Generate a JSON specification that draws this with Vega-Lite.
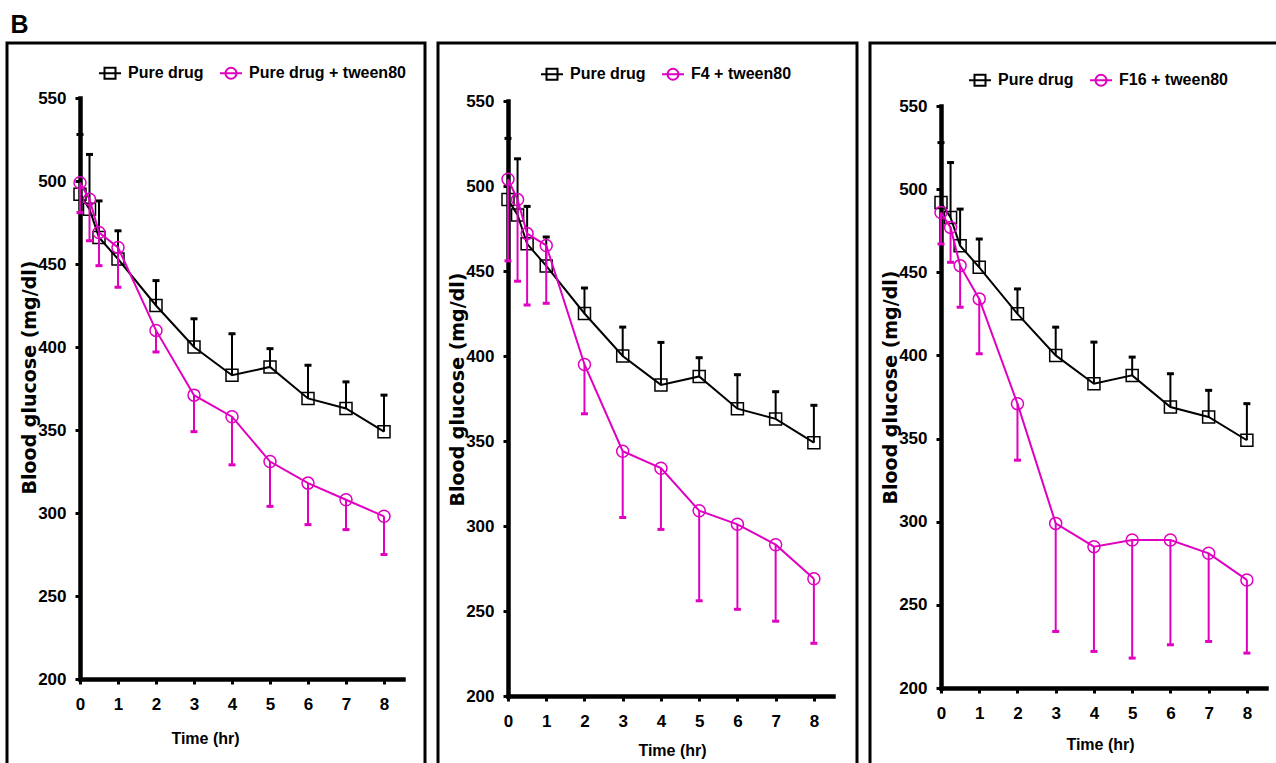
{
  "$schema": "https://vega.github.io/schema/vega-lite/v6.json",
  "padding": {"left": 5, "top": 12, "right": 0, "bottom": 0},
  "background": "white",
  "title": {"text": "B", "anchor": "start", "fontSize": 25, "font": "Liberation Sans", "fontWeight": "bold", "color": "black", "offset": 4, "dx": 5},
  "spacing": 9,
  "datasets": {
    "p1": [
      {"s": "Pure drug", "t": 0, "v": 492, "e": 528},
      {"s": "Pure drug", "t": 0.25, "v": 483, "e": 516},
      {"s": "Pure drug", "t": 0.5, "v": 466, "e": 488},
      {"s": "Pure drug", "t": 1, "v": 453, "e": 470},
      {"s": "Pure drug", "t": 2, "v": 425, "e": 440},
      {"s": "Pure drug", "t": 3, "v": 400, "e": 417},
      {"s": "Pure drug", "t": 4, "v": 383, "e": 408},
      {"s": "Pure drug", "t": 5, "v": 388, "e": 399},
      {"s": "Pure drug", "t": 6, "v": 369, "e": 389},
      {"s": "Pure drug", "t": 7, "v": 363, "e": 379},
      {"s": "Pure drug", "t": 8, "v": 349, "e": 371},
      {"s": "Pure drug + tween80", "t": 0, "v": 499, "e": 481},
      {"s": "Pure drug + tween80", "t": 0.25, "v": 489, "e": 464},
      {"s": "Pure drug + tween80", "t": 0.5, "v": 469, "e": 449},
      {"s": "Pure drug + tween80", "t": 1, "v": 460, "e": 436},
      {"s": "Pure drug + tween80", "t": 2, "v": 410, "e": 397},
      {"s": "Pure drug + tween80", "t": 3, "v": 371, "e": 349},
      {"s": "Pure drug + tween80", "t": 4, "v": 358, "e": 329},
      {"s": "Pure drug + tween80", "t": 5, "v": 331, "e": 304},
      {"s": "Pure drug + tween80", "t": 6, "v": 318, "e": 293},
      {"s": "Pure drug + tween80", "t": 7, "v": 308, "e": 290},
      {"s": "Pure drug + tween80", "t": 8, "v": 298, "e": 275}
    ],
    "p2": [
      {"s": "Pure drug", "t": 0, "v": 492, "e": 528},
      {"s": "Pure drug", "t": 0.25, "v": 483, "e": 516},
      {"s": "Pure drug", "t": 0.5, "v": 466, "e": 488},
      {"s": "Pure drug", "t": 1, "v": 453, "e": 470},
      {"s": "Pure drug", "t": 2, "v": 425, "e": 440},
      {"s": "Pure drug", "t": 3, "v": 400, "e": 417},
      {"s": "Pure drug", "t": 4, "v": 383, "e": 408},
      {"s": "Pure drug", "t": 5, "v": 388, "e": 399},
      {"s": "Pure drug", "t": 6, "v": 369, "e": 389},
      {"s": "Pure drug", "t": 7, "v": 363, "e": 379},
      {"s": "Pure drug", "t": 8, "v": 349, "e": 371},
      {"s": "F4 + tween80", "t": 0, "v": 504, "e": 456},
      {"s": "F4 + tween80", "t": 0.25, "v": 492, "e": 444},
      {"s": "F4 + tween80", "t": 0.5, "v": 472, "e": 430},
      {"s": "F4 + tween80", "t": 1, "v": 465, "e": 431},
      {"s": "F4 + tween80", "t": 2, "v": 395, "e": 366},
      {"s": "F4 + tween80", "t": 3, "v": 344, "e": 305},
      {"s": "F4 + tween80", "t": 4, "v": 334, "e": 298},
      {"s": "F4 + tween80", "t": 5, "v": 309, "e": 256},
      {"s": "F4 + tween80", "t": 6, "v": 301, "e": 251},
      {"s": "F4 + tween80", "t": 7, "v": 289, "e": 244},
      {"s": "F4 + tween80", "t": 8, "v": 269, "e": 231}
    ],
    "p3": [
      {"s": "Pure drug", "t": 0, "v": 492, "e": 528},
      {"s": "Pure drug", "t": 0.25, "v": 483, "e": 516},
      {"s": "Pure drug", "t": 0.5, "v": 466, "e": 488},
      {"s": "Pure drug", "t": 1, "v": 453, "e": 470},
      {"s": "Pure drug", "t": 2, "v": 425, "e": 440},
      {"s": "Pure drug", "t": 3, "v": 400, "e": 417},
      {"s": "Pure drug", "t": 4, "v": 383, "e": 408},
      {"s": "Pure drug", "t": 5, "v": 388, "e": 399},
      {"s": "Pure drug", "t": 6, "v": 369, "e": 389},
      {"s": "Pure drug", "t": 7, "v": 363, "e": 379},
      {"s": "Pure drug", "t": 8, "v": 349, "e": 371},
      {"s": "F16 + tween80", "t": 0, "v": 486, "e": 467},
      {"s": "F16 + tween80", "t": 0.25, "v": 477, "e": 456},
      {"s": "F16 + tween80", "t": 0.5, "v": 454, "e": 429},
      {"s": "F16 + tween80", "t": 1, "v": 434, "e": 401},
      {"s": "F16 + tween80", "t": 2, "v": 371, "e": 337},
      {"s": "F16 + tween80", "t": 3, "v": 299, "e": 234},
      {"s": "F16 + tween80", "t": 4, "v": 285, "e": 222},
      {"s": "F16 + tween80", "t": 5, "v": 289, "e": 218},
      {"s": "F16 + tween80", "t": 6, "v": 289, "e": 226},
      {"s": "F16 + tween80", "t": 7, "v": 281, "e": 228},
      {"s": "F16 + tween80", "t": 8, "v": 265, "e": 221}
    ]
  },
  "hconcat": [
    {
      "width": 418, "height": 740,
      "data": {"name": "p1"},
      "encoding": {
        "x": {"field": "t", "type": "quantitative", "scale": {"domain": [0, 8.5], "range": [73, 396], "nice": false, "zero": false},
          "axis": {"values": [0, 1, 2, 3, 4, 5, 6, 7, 8], "title": "Time (hr)", "offset": -104, "titleX": 198, "titleY": 59}},
        "y": {"field": "v", "type": "quantitative", "scale": {"domain": [200, 550], "range": [636, 55], "nice": false, "zero": false},
          "axis": {"values": [200, 250, 300, 350, 400, 450, 500, 550], "title": "Blood glucose (mg/dl)", "offset": -73, "titleX": -51, "titleY": 334}}
      },
      "layer": [
        {"transform": [{"filter": "datum.s === 'Pure drug'"}], "mark": {"type": "rule", "color": "black", "strokeWidth": 2}, "encoding": {"y2": {"field": "e"}}},
        {"transform": [{"filter": "datum.s === 'Pure drug'"}], "mark": {"type": "tick", "color": "black", "orient": "horizontal", "size": 7, "thickness": 3, "opacity": 1}, "encoding": {"y": {"field": "e", "type": "quantitative"}}},
        {"transform": [{"filter": "datum.s === 'Pure drug'"}], "mark": {"type": "line", "color": "black", "strokeWidth": 2}},
        {"transform": [{"filter": "datum.s === 'Pure drug'"}], "mark": {"type": "point", "color": "black", "shape": "square", "size": 144, "strokeWidth": 1.5, "filled": false, "opacity": 1}},
        {"transform": [{"filter": "datum.s !== 'Pure drug'"}], "mark": {"type": "rule", "color": "#E000C0", "strokeWidth": 2}, "encoding": {"y2": {"field": "e"}}},
        {"transform": [{"filter": "datum.s !== 'Pure drug'"}], "mark": {"type": "tick", "color": "#E000C0", "orient": "horizontal", "size": 7, "thickness": 3, "opacity": 1}, "encoding": {"y": {"field": "e", "type": "quantitative"}}},
        {"transform": [{"filter": "datum.s !== 'Pure drug'"}], "mark": {"type": "line", "color": "#E000C0", "strokeWidth": 2}},
        {"transform": [{"filter": "datum.s !== 'Pure drug'"}], "mark": {"type": "point", "color": "#E000C0", "shape": "circle", "size": 144, "strokeWidth": 1.5, "filled": false, "opacity": 1}},
        {"transform": [{"filter": "false"}], "mark": {"type": "point", "filled": false, "strokeWidth": 2, "opacity": 1},
          "encoding": {
            "shape": {"field": "s", "type": "nominal", "scale": {"domain": ["Pure drug", "Pure drug + tween80"], "range": ["M-1,0H1M-0.5,-0.5H0.5V0.5H-0.5Z", "M-1,0H1M0.5,0A0.5,0.5,0,1,1,-0.5,0A0.5,0.5,0,1,1,0.5,0Z"]},
              "legend": {"orient": "none", "legendX": 91, "legendY": 18, "direction": "horizontal", "title": null}},
            "color": {"field": "s", "type": "nominal", "scale": {"domain": ["Pure drug", "Pure drug + tween80"], "range": ["#000000", "#E000C0"]},
              "legend": {"orient": "none", "legendX": 91, "legendY": 18, "direction": "horizontal", "title": null}}
          }}
      ]
    },
    {
      "width": 419, "height": 740,
      "data": {"name": "p2"},
      "encoding": {
        "x": {"field": "t", "type": "quantitative", "scale": {"domain": [0, 8.5], "range": [70, 395], "nice": false, "zero": false},
          "axis": {"values": [0, 1, 2, 3, 4, 5, 6, 7, 8], "title": "Time (hr)", "offset": -87, "titleX": 234, "titleY": 54}},
        "y": {"field": "v", "type": "quantitative", "scale": {"domain": [200, 550], "range": [653, 58], "nice": false, "zero": false},
          "axis": {"values": [200, 250, 300, 350, 400, 450, 500, 550], "title": "Blood glucose (mg/dl)", "offset": -70, "titleX": -51, "titleY": 346}}
      },
      "layer": [
        {"transform": [{"filter": "datum.s === 'Pure drug'"}], "mark": {"type": "rule", "color": "black", "strokeWidth": 2}, "encoding": {"y2": {"field": "e"}}},
        {"transform": [{"filter": "datum.s === 'Pure drug'"}], "mark": {"type": "tick", "color": "black", "orient": "horizontal", "size": 7, "thickness": 3, "opacity": 1}, "encoding": {"y": {"field": "e", "type": "quantitative"}}},
        {"transform": [{"filter": "datum.s === 'Pure drug'"}], "mark": {"type": "line", "color": "black", "strokeWidth": 2}},
        {"transform": [{"filter": "datum.s === 'Pure drug'"}], "mark": {"type": "point", "color": "black", "shape": "square", "size": 144, "strokeWidth": 1.5, "filled": false, "opacity": 1}},
        {"transform": [{"filter": "datum.s !== 'Pure drug'"}], "mark": {"type": "rule", "color": "#E000C0", "strokeWidth": 2}, "encoding": {"y2": {"field": "e"}}},
        {"transform": [{"filter": "datum.s !== 'Pure drug'"}], "mark": {"type": "tick", "color": "#E000C0", "orient": "horizontal", "size": 7, "thickness": 3, "opacity": 1}, "encoding": {"y": {"field": "e", "type": "quantitative"}}},
        {"transform": [{"filter": "datum.s !== 'Pure drug'"}], "mark": {"type": "line", "color": "#E000C0", "strokeWidth": 2}},
        {"transform": [{"filter": "datum.s !== 'Pure drug'"}], "mark": {"type": "point", "color": "#E000C0", "shape": "circle", "size": 144, "strokeWidth": 1.5, "filled": false, "opacity": 1}},
        {"transform": [{"filter": "false"}], "mark": {"type": "point", "filled": false, "strokeWidth": 2, "opacity": 1},
          "encoding": {
            "shape": {"field": "s", "type": "nominal", "scale": {"domain": ["Pure drug", "F4 + tween80"], "range": ["M-1,0H1M-0.5,-0.5H0.5V0.5H-0.5Z", "M-1,0H1M0.5,0A0.5,0.5,0,1,1,-0.5,0A0.5,0.5,0,1,1,0.5,0Z"]},
              "legend": {"orient": "none", "legendX": 102, "legendY": 19, "direction": "horizontal", "title": null}},
            "color": {"field": "s", "type": "nominal", "scale": {"domain": ["Pure drug", "F4 + tween80"], "range": ["#000000", "#E000C0"]},
              "legend": {"orient": "none", "legendX": 102, "legendY": 19, "direction": "horizontal", "title": null}}
          }}
      ]
    },
    {
      "width": 420, "height": 740,
      "data": {"name": "p3"},
      "encoding": {
        "x": {"field": "t", "type": "quantitative", "scale": {"domain": [0, 8.5], "range": [71, 396], "nice": false, "zero": false},
          "axis": {"values": [0, 1, 2, 3, 4, 5, 6, 7, 8], "title": "Time (hr)", "offset": -95, "titleX": 230, "titleY": 56}},
        "y": {"field": "v", "type": "quantitative", "scale": {"domain": [200, 550], "range": [645, 63], "nice": false, "zero": false},
          "axis": {"values": [200, 250, 300, 350, 400, 450, 500, 550], "title": "Blood glucose (mg/dl)", "offset": -71, "titleX": -51, "titleY": 344}}
      },
      "layer": [
        {"transform": [{"filter": "datum.s === 'Pure drug'"}], "mark": {"type": "rule", "color": "black", "strokeWidth": 2}, "encoding": {"y2": {"field": "e"}}},
        {"transform": [{"filter": "datum.s === 'Pure drug'"}], "mark": {"type": "tick", "color": "black", "orient": "horizontal", "size": 7, "thickness": 3, "opacity": 1}, "encoding": {"y": {"field": "e", "type": "quantitative"}}},
        {"transform": [{"filter": "datum.s === 'Pure drug'"}], "mark": {"type": "line", "color": "black", "strokeWidth": 2}},
        {"transform": [{"filter": "datum.s === 'Pure drug'"}], "mark": {"type": "point", "color": "black", "shape": "square", "size": 144, "strokeWidth": 1.5, "filled": false, "opacity": 1}},
        {"transform": [{"filter": "datum.s !== 'Pure drug'"}], "mark": {"type": "rule", "color": "#E000C0", "strokeWidth": 2}, "encoding": {"y2": {"field": "e"}}},
        {"transform": [{"filter": "datum.s !== 'Pure drug'"}], "mark": {"type": "tick", "color": "#E000C0", "orient": "horizontal", "size": 7, "thickness": 3, "opacity": 1}, "encoding": {"y": {"field": "e", "type": "quantitative"}}},
        {"transform": [{"filter": "datum.s !== 'Pure drug'"}], "mark": {"type": "line", "color": "#E000C0", "strokeWidth": 2}},
        {"transform": [{"filter": "datum.s !== 'Pure drug'"}], "mark": {"type": "point", "color": "#E000C0", "shape": "circle", "size": 144, "strokeWidth": 1.5, "filled": false, "opacity": 1}},
        {"transform": [{"filter": "false"}], "mark": {"type": "point", "filled": false, "strokeWidth": 2, "opacity": 1},
          "encoding": {
            "shape": {"field": "s", "type": "nominal", "scale": {"domain": ["Pure drug", "F16 + tween80"], "range": ["M-1,0H1M-0.5,-0.5H0.5V0.5H-0.5Z", "M-1,0H1M0.5,0A0.5,0.5,0,1,1,-0.5,0A0.5,0.5,0,1,1,0.5,0Z"]},
              "legend": {"orient": "none", "legendX": 98, "legendY": 25, "direction": "horizontal", "title": null}},
            "color": {"field": "s", "type": "nominal", "scale": {"domain": ["Pure drug", "F16 + tween80"], "range": ["#000000", "#E000C0"]},
              "legend": {"orient": "none", "legendX": 98, "legendY": 25, "direction": "horizontal", "title": null}}
          }}
      ]
    }
  ],
  "resolve": {"scale": {"color": "independent", "shape": "independent", "x": "independent", "y": "independent"}, "legend": {"color": "independent", "shape": "independent"}},
  "config": {
    "view": {"stroke": "black", "strokeWidth": 3},
    "axis": {
      "grid": false, "labelFlush": false, "labelOverlap": false,
      "domainColor": "black", "domainWidth": 4.5, "domainCap": "square",
      "tickColor": "black", "tickWidth": 3, "tickSize": 5,
      "labelColor": "black", "labelFont": "Liberation Sans", "labelFontSize": 17, "labelFontWeight": "bold",
      "titleColor": "black"
    },
    "axisX": {"labelPadding": 12, "titleFont": "Liberation Sans", "titleFontSize": 16, "titleFontWeight": "bold", "titleBaseline": "middle", "titleAlign": "center"},
    "axisY": {"labelPadding": 9, "titleFont": "DejaVu Sans", "titleFontSize": 19, "titleFontWeight": "bold", "titleBaseline": "middle", "titleAlign": "center", "titleAngle": -90},
    "legend": {
      "symbolSize": 484, "symbolStrokeWidth": 2,
      "labelFont": "Liberation Sans", "labelFontSize": 16, "labelFontWeight": "bold", "labelColor": "black",
      "labelOffset": 6, "columnPadding": 12
    }
  }
}
